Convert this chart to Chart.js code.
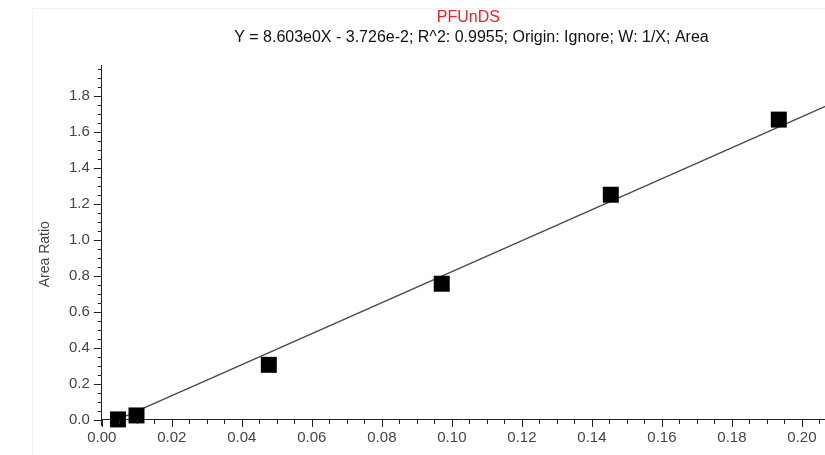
<!DOCTYPE html>
<html>
<head>
<meta charset="utf-8">
<script src="https://cdn.jsdelivr.net/npm/chart.js@4.4.1/dist/chart.umd.min.js"></script>
<style>
  html,body{margin:0;padding:0;background:#fff;}
  #wrap{position:relative;width:825px;height:455px;overflow:hidden;}
  #frame{position:absolute;left:32px;top:8px;width:820px;height:460px;border:1px solid #f1f1f1;box-sizing:border-box;}
  canvas{position:absolute;left:0;top:0;}
</style>
</head>
<body>
<div id="wrap">
  <div id="frame"></div>
  <canvas id="cal" width="825" height="455"></canvas>
</div>
<script>
// curva de calibración PFUnDS
const concX = [0.0046, 0.0099, 0.0477, 0.0971, 0.1454, 0.1934];
const areaRatio = [0.003, 0.025, 0.306, 0.756, 1.25, 1.667];

// recta de ajuste (extremos)
const fitX = [0.005, 0.21];
const fitY = [0.006, 1.769];

const xTickVals = [0, 0.02, 0.04, 0.06, 0.08, 0.10, 0.12, 0.14, 0.16, 0.18, 0.20];
const yTickVals = [0, 0.2, 0.4, 0.6, 0.8, 1.0, 1.2, 1.4, 1.6, 1.8];

const titulo = 'PFUnDS';
const subtitulo = 'Y = 8.603e0X - 3.726e-2; R^2: 0.9955; Origin: Ignore; W: 1/X; Area';
const tituloY = 'Area Ratio';

const FONT = "'Liberation Sans', Arial, sans-serif";

// ticks mayores/menores y textos (título, subtítulo, eje Y)
const decoPlugin = {
  id: 'deco',
  afterDraw(chart){
    const { ctx, chartArea, scales:{x, y} } = chart;
    const y0 = y.getPixelForValue(0);
    ctx.save();
    ctx.strokeStyle = '#222';
    ctx.lineWidth = 1;
    ctx.beginPath();
    for(let i=0; i*0.005 <= x.max + 1e-9; i++){
      const px = Math.round(x.getPixelForValue(i*0.005)) + 0.5;
      const len = (i % 4 === 0) ? 7 : 4;
      ctx.moveTo(px, y0); ctx.lineTo(px, y0 + len);
    }
    for(let i=0; i*0.05 <= y.max + 1e-9; i++){
      const py = Math.round(y.getPixelForValue(i*0.05)) + 0.5;
      const len = (i % 4 === 0) ? 8 : 4;
      ctx.moveTo(x.left, py); ctx.lineTo(x.left - len, py);
    }
    ctx.stroke();

    const cx = (chartArea.left + chartArea.right) / 2 + 8;
    ctx.textAlign = 'center';
    ctx.textBaseline = 'middle';
    ctx.font = `16px ${FONT}`;
    ctx.fillStyle = '#e3262b';
    ctx.fillText(titulo, cx - 3, 18);
    ctx.fillStyle = '#111';
    ctx.fillText(subtitulo, cx, 38);

    ctx.translate(45, y.getPixelForValue(0.92));
    ctx.rotate(-Math.PI/2);
    ctx.font = `14px ${FONT}`;
    ctx.fillStyle = '#444';
    ctx.fillText(tituloY, 0, 0);
    ctx.restore();
  }
};

const sinPadding = (s)=>{ s.paddingLeft = 0; s.paddingRight = 0; s.paddingTop = 0; s.paddingBottom = 0; };

new Chart(document.getElementById('cal'), {
  type: 'scatter',
  data: {
    datasets: [
      {
        label: 'Estándares',
        data: concX.map((v,i)=>({x:v, y:areaRatio[i]})),
        pointStyle: 'rect',
        pointRadius: 11.3,
        pointHoverRadius: 11.3,
        backgroundColor: '#000',
        borderWidth: 0,
        clip: false,
        order: 0
      },
      {
        label: 'Ajuste',
        type: 'line',
        data: fitX.map((v,i)=>({x:v, y:fitY[i]})),
        borderColor: '#4a4a4a',
        borderWidth: 1.5,
        pointRadius: 0,
        fill: false,
        order: 1
      }
    ]
  },
  options: {
    responsive: false,
    animation: false,
    layout: { autoPadding: false, padding: { left: 57, right: 0, top: 65, bottom: 30 } },
    plugins: {
      legend: { display: false },
      tooltip: { enabled: false },
      title: { display: false },
      subtitle: { display: false }
    },
    scales: {
      x: {
        type: 'linear',
        min: 0, max: 0.2066,
        position: { y: 0 },
        afterBuildTicks: (s)=>{ s.ticks = xTickVals.map(v=>({value:v})); },
        afterFit: sinPadding,
        grid: { display: false, drawTicks: false },
        border: { display: true, color: '#222', width: 1 },
        ticks: {
          color: '#444', padding: 9, maxRotation: 0, autoSkip: false,
          font: { family: FONT, size: 15 },
          callback: (v)=> v.toFixed(2)
        }
      },
      y: {
        type: 'linear',
        min: -0.028, max: 1.97,
        position: 'left',
        afterBuildTicks: (s)=>{ s.ticks = yTickVals.map(v=>({value:v})); },
        afterFit: sinPadding,
        grid: { display: false, drawTicks: false },
        border: { display: true, color: '#222', width: 1 },
        ticks: {
          color: '#444', padding: 12, autoSkip: false,
          font: { family: FONT, size: 15 },
          callback: (v)=> v.toFixed(1)
        }
      }
    }
  },
  plugins: [decoPlugin]
});
</script>
</body>
</html>
